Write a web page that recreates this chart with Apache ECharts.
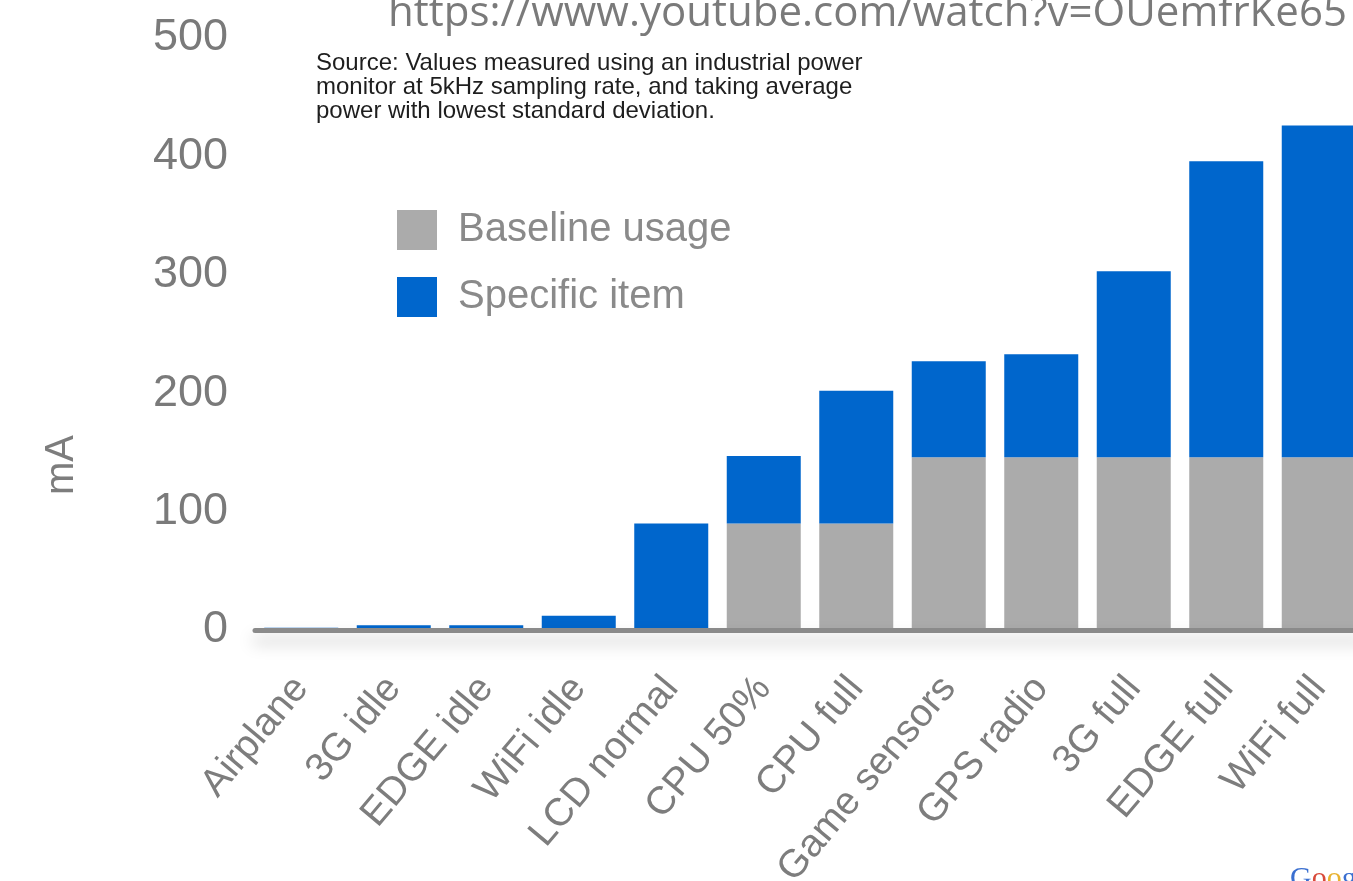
<!DOCTYPE html>
<html>
<head>
<meta charset="utf-8">
<script src="https://cdn.jsdelivr.net/npm/echarts@6/dist/echarts.min.js"></script>
<style>
  html, body { margin: 0; padding: 0; background: #fff; }
  #main { width: 1353px; height: 881px; }
</style>
</head>
<body>
<div id="main"></div>
<script>
// categories along the x axis
var categories = ['Airplane', '3G idle', 'EDGE idle', 'WiFi idle', 'LCD normal', 'CPU 50%',
  'CPU full', 'Game sensors', 'GPS radio', '3G full', 'EDGE full', 'WiFi full'];
// mA
var baselineData = [0, 0, 0, 0, 0, 90, 90, 146, 146, 146, 146, 146];
var specificData = [2, 4, 4, 12, 90, 57, 112, 81, 87, 157, 250, 280];
var yTicks = [0, 100, 200, 300, 400, 500];

var sourceNote = 'Source: Values measured using an industrial power\nmonitor at 5kHz sampling rate, and taking average\npower with lowest standard deviation.';
var urlText = 'https://www.youtube.com/watch?v=OUemfrKe65';

var chart = echarts.init(document.getElementById('main'));

var option = {
  backgroundColor: '#fff',
  animation: false,
  textStyle: { fontFamily: '"Liberation Sans", Arial, sans-serif' },
  grid: {
    left: 255,
    top: 38,
    width: 1110,
    height: 592,
    containLabel: false,
    outerBoundsMode: 'none'
  },
  legend: {
    orient: 'vertical',
    left: 392,
    top: 205,
    itemWidth: 40,
    itemHeight: 40,
    itemGap: 27,
    icon: 'rect',
    data: ['Baseline usage', 'Specific item'],
    textStyle: { fontSize: 40, color: '#8a8a8a', padding: [0, 0, 0, 16] }
  },
  xAxis: {
    type: 'category',
    data: categories,
    z: 3,
    axisTick: { show: false },
    axisLine: {
      lineStyle: {
        color: '#8a8a8a',
        width: 5,
        shadowColor: 'rgba(0,0,0,0.25)',
        shadowBlur: 16,
        shadowOffsetY: 10
      }
    },
    axisLabel: {
      interval: 0,
      rotate: 50,
      margin: 52,
      fontSize: 39,
      color: '#7d7d7d'
    }
  },
  yAxis: {
    type: 'value',
    min: yTicks[0],
    max: yTicks[yTicks.length - 1],
    interval: 100,
    axisLine: { show: false },
    axisTick: { show: false },
    splitLine: { show: false },
    axisLabel: { fontSize: 45, color: '#7a7a7a', margin: 27 }
  },
  series: [
    {
      name: 'Baseline usage',
      type: 'bar',
      stack: 'total',
      barCategoryGap: '20%',
      itemStyle: { color: '#ababab' },
      data: baselineData
    },
    {
      name: 'Specific item',
      type: 'bar',
      stack: 'total',
      barCategoryGap: '20%',
      itemStyle: { color: '#0066cc' },
      data: specificData
    }
  ],
  graphic: [
    {
      type: 'text',
      left: 388,
      top: -7,
      style: {
        text: urlText,
        font: '42px "Open Sans", sans-serif',
        fill: '#7a7a7a'
      }
    },
    {
      type: 'text',
      left: 316,
      top: 51,
      style: {
        text: sourceNote,
        font: '24px "Liberation Sans", Arial, sans-serif',
        lineHeight: 24,
        fill: '#1e1e1e'
      }
    },
    {
      // y-axis title, drawn by hand because it sits below the axis middle
      type: 'text',
      x: 62,
      y: 465,
      rotation: Math.PI / 2,
      style: {
        text: 'mA',
        font: '40px "Liberation Sans", Arial, sans-serif',
        fill: '#7d7d7d',
        align: 'center',
        verticalAlign: 'middle'
      }
    },
    {
      type: 'text',
      left: 1290,
      top: 864,
      style: {
        text: '{b|G}{r|o}{y|o}{b|g}{g|l}{r|e}',
        rich: {
          b: { fill: '#3a6fd0', font: '30px "Liberation Serif", serif' },
          r: { fill: '#d84a3a', font: '30px "Liberation Serif", serif' },
          y: { fill: '#e8b230', font: '30px "Liberation Serif", serif' },
          g: { fill: '#3aa24a', font: '30px "Liberation Serif", serif' }
        }
      }
    }
  ]
};

chart.setOption(option);
</script>
</body>
</html>
